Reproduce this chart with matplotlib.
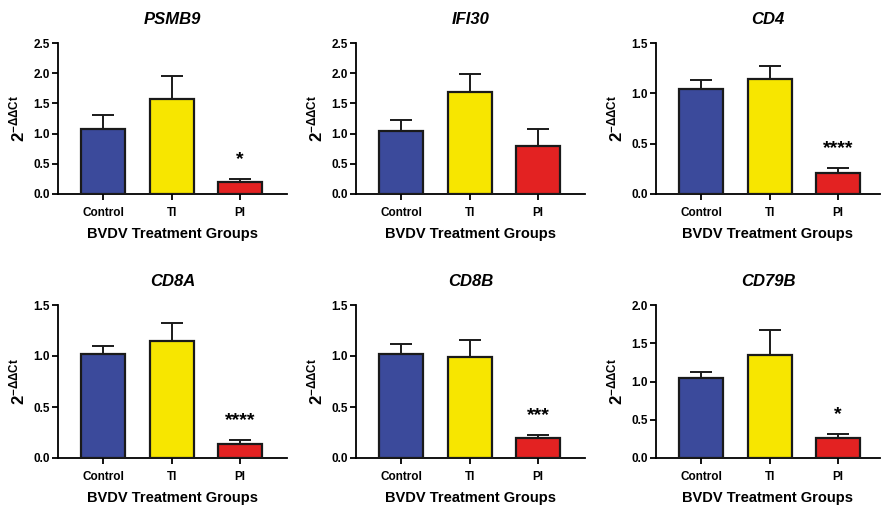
import numpy as np
import matplotlib.pyplot as plt

plt.rcParams['font.family'] = ['Liberation Sans', 'DejaVu Sans']
plt.rcParams['mathtext.fontset'] = 'custom'
plt.rcParams['mathtext.rm'] = 'Liberation Sans'
plt.rcParams['mathtext.bf'] = 'Liberation Sans:bold'
plt.rcParams['mathtext.it'] = 'Liberation Sans:italic'

# Data
groups = ['Control', 'TI', 'PI']
genes = ['PSMB9', 'IFI30', 'CD4', 'CD8A', 'CD8B', 'CD79B']
means = [
    [1.08, 1.57, 0.20],
    [1.04, 1.69, 0.79],
    [1.04, 1.14, 0.21],
    [1.02, 1.15, 0.14],
    [1.02, 0.99, 0.20],
    [1.04, 1.34, 0.265],
]
upper = [
    [1.31, 1.96, 0.25],
    [1.22, 1.99, 1.08],
    [1.13, 1.27, 0.255],
    [1.10, 1.32, 0.175],
    [1.12, 1.16, 0.225],
    [1.12, 1.67, 0.31],
]
stars = ['*', '', '****', '****', '***', '*']
ymax = [2.5, 2.5, 1.5, 1.5, 1.5, 2.0]

colors = ['#3b4a9b', '#f7e600', '#e32222']

W, H = 881, 507
fig = plt.figure(figsize=(W / 100, H / 100), dpi=100)

# axes rectangles in pixels: left, top, width, height
rects = [
    (58, 43, 229, 151), (356, 43, 229, 151), (656, 43, 224, 151),
    (58, 305, 229, 153), (356, 305, 229, 153), (656, 305, 224, 153),
]

x = np.arange(len(groups))
for i, gene in enumerate(genes):
    l, t, w, h = rects[i]
    ax = fig.add_axes([l / W, 1 - (t + h) / H, w / W, h / H])
    m = np.array(means[i])
    err = np.array(upper[i]) - m
    ax.bar(x, m, width=0.64, color=colors, edgecolor='#1a1a1a', linewidth=1.6, zorder=3)
    ax.errorbar(x, m, yerr=[np.zeros_like(err), err], fmt='none', ecolor='#1a1a1a',
                elinewidth=1.4, capsize=8, capthick=1.4, zorder=2)
    if stars[i]:
        ax.annotate(stars[i], (x[2], upper[i][2]), xytext=(0, 14), textcoords='offset points',
                    ha='center', va='center', fontsize=14, fontweight='bold')
    ax.set_xlim(-0.66, -0.66 + w / 68.5)
    ax.set_ylim(0, ymax[i])
    ax.set_yticks(np.arange(0, ymax[i] + 0.01, 0.5))
    ax.yaxis.set_major_formatter(plt.FormatStrFormatter('%.1f'))
    ax.set_xticks(x)
    ax.set_xticklabels(groups)
    for s in ['top', 'right']:
        ax.spines[s].set_visible(False)
    for s in ['left', 'bottom']:
        ax.spines[s].set_linewidth(1.3)
    ax.tick_params(width=1.3, length=4, labelsize=8.5)
    ax.tick_params(axis='x', pad=5)
    ax.tick_params(axis='y', pad=2)
    for lab in ax.get_xticklabels() + ax.get_yticklabels():
        lab.set_fontweight('bold')
    ax.set_title(gene, fontsize=12, fontweight='bold', style='italic', pad=14)
    ax.set_xlabel('BVDV Treatment Groups', fontsize=10.5, fontweight='bold', labelpad=6)
    ax.set_ylabel(r'$\mathbf{2^{−ΔΔCt}}$', fontsize=12, labelpad=4)

plt.savefig('out.png', dpi=100)
